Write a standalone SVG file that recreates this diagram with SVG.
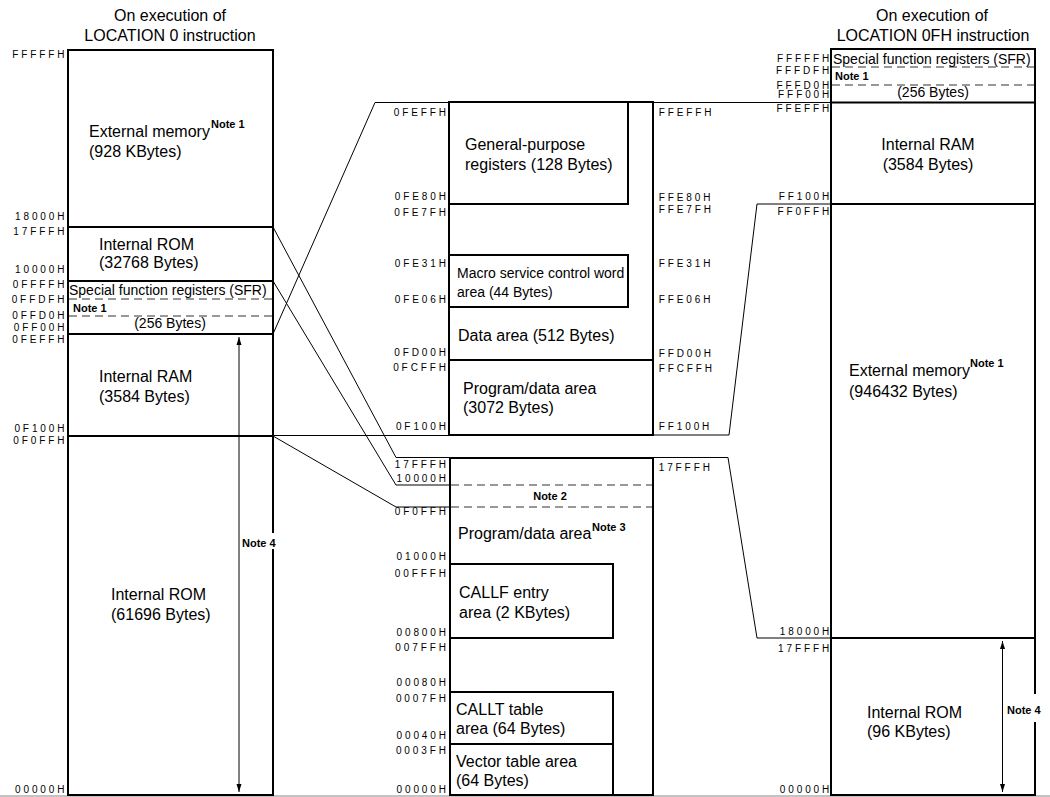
<svg xmlns="http://www.w3.org/2000/svg" width="1050" height="797" viewBox="0 0 1050 797">
<defs>
<style>
text{font-family:"Liberation Sans",Arial,sans-serif;fill:#000}
.t{font-size:16px}
.s{font-size:14px}
.a{font-size:10px;letter-spacing:2.9px}
.ae{font-size:10px;letter-spacing:2.9px;text-anchor:end}
.n{font-size:11px;font-weight:bold}
.m{text-anchor:middle}
.box{fill:none;stroke:#000;stroke-width:2}
.div{stroke:#000;stroke-width:2}
.dash{stroke:#333;stroke-width:1.2;stroke-dasharray:8 5}
.con{fill:none;stroke:#000;stroke-width:1}
</style>
<marker id="ah" viewBox="0 0 8 8" refX="8" refY="4" markerWidth="8" markerHeight="8" markerUnits="userSpaceOnUse" orient="auto-start-reverse">
<path d="M0,1.5 L8,4 L0,6.5 Z" fill="#000"/>
</marker>
</defs>
<rect width="1050" height="797" fill="#fff"/>

<g id="titles">
<text class="t m" x="170" y="20.5">On execution of</text>
<text class="t m" x="170" y="40.5">LOCATION 0 instruction</text>
<text class="t m" x="932" y="20.5">On execution of</text>
<text class="t m" x="933" y="40.5">LOCATION 0FH instruction</text>
</g>

<g id="connectors">
<polyline class="con" points="273,227 396,457.5 450,457.5"/>
<polyline class="con" points="273,281 396,485 450,485"/>
<polyline class="con" points="273,334 375,102.5 449,102.5"/>
<line class="con" x1="273" y1="435.5" x2="449" y2="435.5"/>
<polyline class="con" points="273,436 396,507 450,507"/>
<line class="con" x1="653" y1="102.5" x2="831" y2="102.5"/>
<polyline class="con" points="653,435 729,435 757,204 831,204"/>
<polyline class="con" points="653,457.5 728,457.5 757,638 831,638"/>
<line x1="0" y1="796" x2="1050" y2="796" stroke="#888" stroke-width="1"/>
</g>

<g id="left-map">
<rect class="box" x="68" y="50" width="205" height="745"/>
<line class="div" x1="68" y1="227" x2="273" y2="227"/>
<line class="div" x1="68" y1="281" x2="273" y2="281"/>
<line class="dash" x1="69" y1="299" x2="272" y2="299"/>
<line class="dash" x1="69" y1="316" x2="272" y2="316"/>
<line class="div" x1="68" y1="334" x2="273" y2="334"/>
<line class="div" x1="68" y1="436" x2="273" y2="436"/>
<text class="ae" x="67.4" y="58.3">FFFFFH</text>
<text class="ae" x="67.4" y="219.5">18000H</text>
<text class="ae" x="67.4" y="234.5">17FFFH</text>
<text class="ae" x="67.4" y="273">10000H</text>
<text class="ae" x="67.4" y="288">0FFFFH</text>
<text class="ae" x="67.4" y="303">0FFDFH</text>
<text class="ae" x="67.4" y="319">0FFD0H</text>
<text class="ae" x="67.4" y="331">0FF00H</text>
<text class="ae" x="67.4" y="343">0FEFFH</text>
<text class="ae" x="67.4" y="432">0F100H</text>
<text class="ae" x="67.4" y="443.5">0F0FFH</text>
<text class="ae" x="67.4" y="793">00000H</text>
<text class="t" x="89" y="137">External memory</text>
<text class="n" x="211" y="128">Note 1</text>
<text class="t" x="89" y="157">(928 KBytes)</text>
<text class="t" x="99" y="250">Internal ROM</text>
<text class="t" x="99" y="268">(32768 Bytes)</text>
<text class="s" x="69" y="295">Special function registers (SFR)</text>
<text class="n" x="73" y="311.5">Note 1</text>
<text class="s m" x="170" y="328">(256 Bytes)</text>
<text class="t" x="99" y="381.5">Internal RAM</text>
<text class="t" x="99" y="401.5">(3584 Bytes)</text>
<text class="t" x="111" y="600">Internal ROM</text>
<text class="t" x="111" y="620">(61696 Bytes)</text>
<line x1="239" y1="337" x2="239" y2="792" stroke="#000" stroke-width="1" marker-start="url(#ah)" marker-end="url(#ah)"/>
<rect x="241" y="533" width="40" height="16" fill="#fff"/>
<text class="n" x="242" y="546.5">Note 4</text>
</g>

<g id="middle-upper">
<rect class="box" x="449" y="102" width="204" height="333"/>
<rect class="box" x="449" y="102" width="179" height="102"/>
<rect class="box" x="449" y="255" width="179" height="52"/>
<line class="div" x1="449" y1="360" x2="653" y2="360"/>
<text class="t" x="465" y="150">General-purpose</text>
<text class="t" x="465" y="169.5">registers (128 Bytes)</text>
<text class="s" x="457" y="278.3">Macro service control word</text>
<text class="s" x="457" y="296.7">area (44 Bytes)</text>
<text class="t" x="458" y="340.7">Data area (512 Bytes)</text>
<text class="t" x="463" y="394">Program/data area</text>
<text class="t" x="463" y="413.3">(3072 Bytes)</text>
<text class="ae" x="448.9" y="116">0FEFFH</text>
<text class="ae" x="448.9" y="200">0FE80H</text>
<text class="ae" x="448.9" y="216">0FE7FH</text>
<text class="ae" x="448.9" y="267.3">0FE31H</text>
<text class="ae" x="448.9" y="303.3">0FE06H</text>
<text class="ae" x="448.9" y="356">0FD00H</text>
<text class="ae" x="448.9" y="370.7">0FCFFH</text>
<text class="ae" x="448.9" y="430">0F100H</text>
<text class="a" x="658.7" y="116">FFEFFH</text>
<text class="a" x="658.7" y="200.7">FFE80H</text>
<text class="a" x="658.7" y="212.7">FFE7FH</text>
<text class="a" x="658.7" y="266.7">FFE31H</text>
<text class="a" x="658.7" y="303.3">FFE06H</text>
<text class="a" x="658.7" y="357.3">FFD00H</text>
<text class="a" x="658.7" y="371.7">FFCFFH</text>
<text class="a" x="658.7" y="430">FF100H</text>
</g>

<g id="middle-lower">
<rect class="box" x="450" y="458" width="203" height="337"/>
<line class="dash" x1="451" y1="485" x2="652" y2="485"/>
<line class="dash" x1="451" y1="507" x2="652" y2="507"/>
<rect class="box" x="450" y="564" width="163" height="74"/>
<rect class="box" x="450" y="692" width="163" height="52"/>
<rect class="box" x="450" y="744" width="163" height="51"/>
<text class="n m" x="550" y="500">Note 2</text>
<text class="t" x="458" y="539.3">Program/data area</text>
<text class="n" x="592" y="530.7">Note 3</text>
<text class="t" x="459" y="598.3">CALLF entry</text>
<text class="t" x="459" y="618.3">area (2 KBytes)</text>
<text class="t" x="456" y="715">CALLT table</text>
<text class="t" x="456" y="734">area (64 Bytes)</text>
<text class="t" x="456" y="767.3">Vector table area</text>
<text class="t" x="456" y="786">(64 Bytes)</text>
<text class="ae" x="448.9" y="468.3">17FFFH</text>
<text class="ae" x="448.9" y="481.7">10000H</text>
<text class="ae" x="448.9" y="515">0F0FFH</text>
<text class="ae" x="448.9" y="560">01000H</text>
<text class="ae" x="448.9" y="577.3">00FFFH</text>
<text class="ae" x="448.9" y="636">00800H</text>
<text class="ae" x="448.9" y="650.7">007FFH</text>
<text class="ae" x="448.9" y="686">00080H</text>
<text class="ae" x="448.9" y="701.7">0007FH</text>
<text class="ae" x="448.9" y="739.3">00040H</text>
<text class="ae" x="448.9" y="754">0003FH</text>
<text class="ae" x="448.9" y="793.3">00000H</text>
<text class="a" x="658.7" y="470.7">17FFFH</text>
</g>

<g id="right-map">
<rect class="box" x="831" y="49" width="204" height="746"/>
<line class="dash" x1="832" y1="67" x2="1034" y2="67"/>
<line class="dash" x1="832" y1="85" x2="1034" y2="85"/>
<line class="div" x1="831" y1="102.5" x2="1035" y2="102.5"/>
<line class="div" x1="831" y1="204" x2="1035" y2="204"/>
<line class="div" x1="831" y1="638" x2="1035" y2="638"/>
<text class="ae" x="832.2" y="61.7">FFFFFH</text>
<text class="ae" x="832.2" y="74">FFFDFH</text>
<text class="ae" x="832.2" y="89.3">FFFD0H</text>
<text class="ae" x="832.2" y="98.3">FFF00H</text>
<text class="ae" x="832.2" y="111.7">FFEFFH</text>
<text class="ae" x="832.2" y="200">FF100H</text>
<text class="ae" x="832.2" y="215">FF0FFH</text>
<text class="ae" x="832.2" y="635">18000H</text>
<text class="ae" x="832.2" y="652">17FFFH</text>
<text class="ae" x="832.2" y="793">00000H</text>
<text class="s" x="833" y="64">Special function registers (SFR)</text>
<text class="n" x="835" y="80">Note 1</text>
<text class="s m" x="933" y="96.7">(256 Bytes)</text>
<text class="t m" x="928" y="150">Internal RAM</text>
<text class="t m" x="928" y="170">(3584 Bytes)</text>
<text class="t" x="849" y="376">External memory</text>
<text class="n" x="970" y="367">Note 1</text>
<text class="t" x="849" y="396.7">(946432 Bytes)</text>
<text class="t" x="867" y="717.5">Internal ROM</text>
<text class="t" x="867" y="737">(96 KBytes)</text>
<line x1="1002.5" y1="641" x2="1002.5" y2="792" stroke="#000" stroke-width="1" marker-start="url(#ah)" marker-end="url(#ah)"/>
<rect x="1005" y="694" width="42" height="28" fill="#fff"/>
<text class="n" x="1007" y="713.5">Note 4</text>
</g>
</svg>
